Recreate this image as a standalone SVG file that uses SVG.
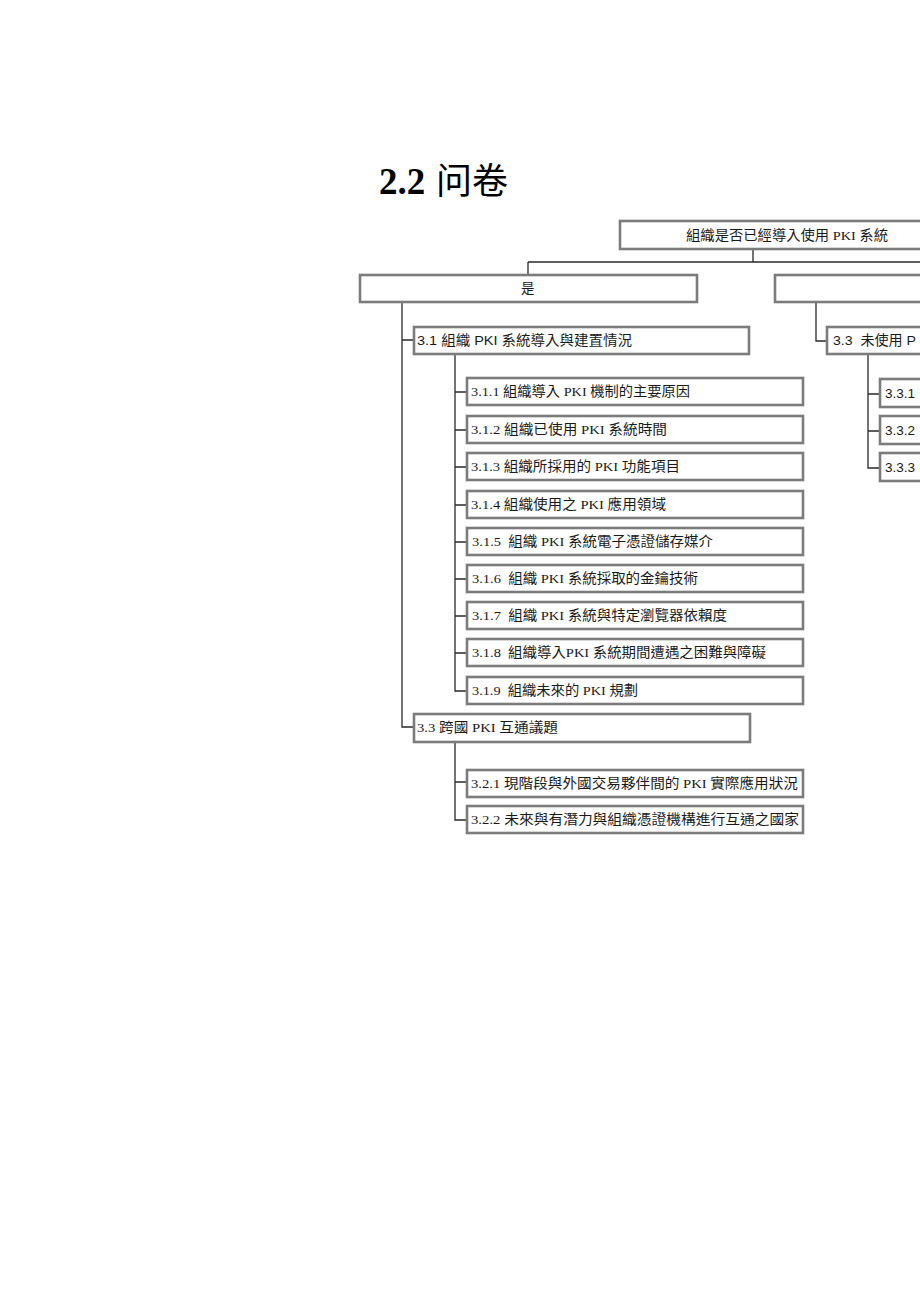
<svg xmlns="http://www.w3.org/2000/svg" width="920" height="1301" viewBox="0 0 920 1301">
<style>
.box{fill:#ffffff;stroke:#7c7c7c;stroke-width:2.6}
.t{font-family:"Liberation Serif","Noto Sans CJK TC",serif;font-size:13.5px;fill:#1a1a1a}
.s{font-family:"Liberation Sans","Noto Sans CJK TC",sans-serif;font-size:13.5px;fill:#1a1a1a}
.c{fill:none;stroke:#2a2a2a;stroke-width:1.3}
</style>
<rect width="920" height="1301" fill="#ffffff"/>
<g id="title">
<text x="379" y="194" font-family="Liberation Serif, serif" font-weight="bold" font-size="37" fill="#000">2.2</text>
<text x="436" y="194" font-family="Noto Sans CJK SC, sans-serif" font-weight="400" font-size="36" fill="#000">问卷</text>
</g>
<g id="connectors" class="c">
<path d="M753 249V262M528 262H960M528 262V275"/>
<path d="M402 302V727H414M402 340H414"/>
<path d="M455 354V691H467M455 392H467M455 430H467M455 467H467M455 505H467M455 542H467M455 579H467M455 616H467M455 653H467"/>
<path d="M455 742V820H467M455 782H467"/>
<path d="M816 302V341H827"/>
<path d="M868 354V468H880M868 394H880M868 431H880"/>
</g>
<g id="n-root"><rect class="box" x="620" y="221" width="335" height="28"/><text class="t" x="686" y="240" textLength="202" lengthAdjust="spacingAndGlyphs">組織是否已經導入使用 PKI 系統</text></g>
<g id="n-yes"><rect class="box" x="360" y="275" width="337" height="27"/><text class="t" x="521" y="293">是</text></g>
<g id="n-no"><rect class="box" x="775" y="275" width="337" height="27"/></g>
<g id="n-3-1"><rect class="box" x="414" y="327" width="335" height="27"/><text class="s" x="417" y="345" textLength="215" lengthAdjust="spacingAndGlyphs">3.1 組織 PKI 系統導入與建置情況</text></g>
<g id="n-3-1-1"><rect class="box" x="467" y="378" width="336" height="27"/><text class="t" x="471" y="396" textLength="219" lengthAdjust="spacingAndGlyphs">3.1.1 組織導入 PKI 機制的主要原因</text></g>
<g id="n-3-1-2"><rect class="box" x="467" y="416" width="336" height="27"/><text class="t" x="471" y="434" textLength="196" lengthAdjust="spacingAndGlyphs">3.1.2 組織已使用 PKI 系統時間</text></g>
<g id="n-3-1-3"><rect class="box" x="467" y="453" width="336" height="27"/><text class="t" x="471" y="471" textLength="209" lengthAdjust="spacingAndGlyphs">3.1.3 組織所採用的 PKI 功能項目</text></g>
<g id="n-3-1-4"><rect class="box" x="467" y="491" width="336" height="27"/><text class="t" x="471" y="509" textLength="195" lengthAdjust="spacingAndGlyphs">3.1.4 組織使用之 PKI 應用領域</text></g>
<g id="n-3-1-5"><rect class="box" x="467" y="528" width="336" height="27"/><text class="t" x="472" y="546" textLength="241" lengthAdjust="spacingAndGlyphs">3.1.5&#160; 組織 PKI 系統電子憑證儲存媒介</text></g>
<g id="n-3-1-6"><rect class="box" x="467" y="565" width="336" height="27"/><text class="t" x="472" y="583" textLength="226" lengthAdjust="spacingAndGlyphs">3.1.6&#160; 組織 PKI 系統採取的金鑰技術</text></g>
<g id="n-3-1-7"><rect class="box" x="467" y="602" width="336" height="27"/><text class="t" x="472" y="620" textLength="255" lengthAdjust="spacingAndGlyphs">3.1.7&#160; 組織 PKI 系統與特定瀏覽器依賴度</text></g>
<g id="n-3-1-8"><rect class="box" x="467" y="639" width="336" height="27"/><text class="t" x="472" y="657" textLength="294" lengthAdjust="spacingAndGlyphs">3.1.8&#160; 組織導入PKI 系統期間遭遇之困難與障礙</text></g>
<g id="n-3-1-9"><rect class="box" x="467" y="677" width="336" height="27"/><text class="t" x="472" y="695" textLength="166" lengthAdjust="spacingAndGlyphs">3.1.9&#160; 組織未來的 PKI 規劃</text></g>
<g id="n-3-3a"><rect class="box" x="414" y="714" width="336" height="28"/><text class="t" x="417" y="732" textLength="141" lengthAdjust="spacingAndGlyphs">3.3 跨國 PKI 互通議題</text></g>
<g id="n-3-2-1"><rect class="box" x="467" y="770" width="336" height="27"/><text class="t" x="471" y="788" textLength="327" lengthAdjust="spacingAndGlyphs">3.2.1 現階段與外國交易夥伴間的 PKI 實際應用狀況</text></g>
<g id="n-3-2-2"><rect class="box" x="467" y="806" width="336" height="27"/><text class="t" x="471" y="824" textLength="328" lengthAdjust="spacingAndGlyphs">3.2.2 未來與有潛力與組織憑證機構進行互通之國家</text></g>
<g id="n-3-3b"><rect class="box" x="827" y="327" width="337" height="27"/><text class="s" x="833" y="345" textLength="83" lengthAdjust="spacingAndGlyphs">3.3&#160; 未使用 P</text></g>
<g id="n-3-3-1"><rect class="box" x="880" y="379" width="200" height="28"/><text class="s" x="885" y="398">3.3.1</text></g>
<g id="n-3-3-2"><rect class="box" x="880" y="416" width="200" height="28"/><text class="s" x="885" y="435">3.3.2</text></g>
<g id="n-3-3-3"><rect class="box" x="880" y="453" width="200" height="28"/><text class="s" x="885" y="472">3.3.3</text></g>
</svg>
